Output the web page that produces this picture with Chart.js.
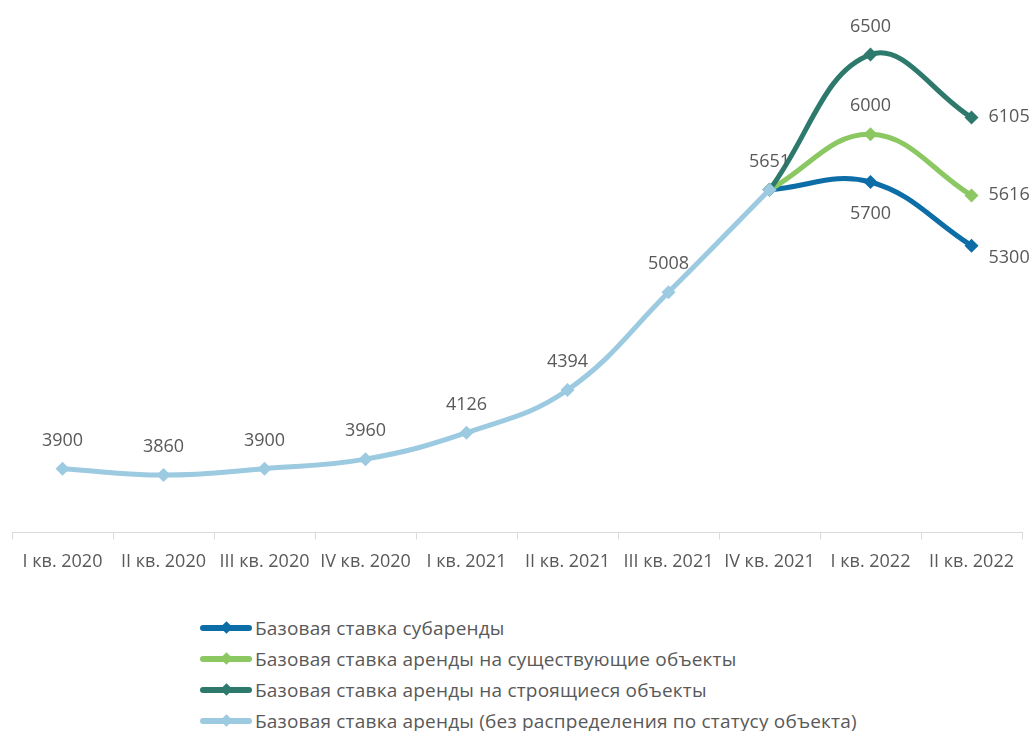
<!DOCTYPE html>
<html lang="ru">
<head>
    <meta charset="UTF-8">
    <title>Базовая ставка аренды</title>
    <script src="https://cdn.jsdelivr.net/npm/chart.js"></script>
    <style>
        body {
            margin: 0;
            background: #fff;
            font-family: 'Open Sans', sans-serif;
        }

        #chart-container {
            position: relative;
            width: 1035px;
            height: 592px;
        }

        #legend {
            margin: 20px 0 0 200px;
            padding: 0;
            list-style: none;
        }

        #legend li {
            display: flex;
            align-items: center;
            height: 31px;
            font-size: 19px;
            letter-spacing: 0.2px;
            color: #595959;
        }

        .swatch {
            position: relative;
            width: 52px;
            height: 6px;
            border-radius: 3px;
            margin-right: 3px;
        }

        .swatch i {
            position: absolute;
            left: 22px;
            top: -2px;
            width: 9px;
            height: 9px;
            transform: rotate(45deg);
            background: inherit;
        }
    </style>
</head>

<body>
    <div id="chart-container">
        <canvas id="chart"></canvas>
    </div>
    <ul id="legend"></ul>

    <script>
        // Данные
        var quarters = ['I кв. 2020', 'II кв. 2020', 'III кв. 2020', 'IV кв. 2020', 'I кв. 2021',
            'II кв. 2021', 'III кв. 2021', 'IV кв. 2021', 'I кв. 2022', 'II кв. 2022'];
        var subRent = [null, null, null, null, null, null, null, 5651, 5700, 5300];
        var existingRent = [null, null, null, null, null, null, null, 5651, 6000, 5616];
        var buildingRent = [null, null, null, null, null, null, null, 5651, 6500, 6105];
        var baseRent = [3900, 3860, 3900, 3960, 4126, 4394, 5008, 5651, null, null];

        var seriesNames = [
            'Базовая ставка субаренды',
            'Базовая ставка аренды на существующие объекты',
            'Базовая ставка аренды на строящиеся объекты',
            'Базовая ставка аренды (без распределения по статусу объекта)'
        ];

        function line(label, data, color, order) {
            return {
                label: label,
                data: data,
                borderColor: color,
                backgroundColor: color,
                borderWidth: 5,
                pointStyle: 'rectRot',
                pointRadius: 7,
                pointBorderWidth: 0,
                tension: 0.4,
                order: order
            };
        }

        var datasets = [
            line(seriesNames[0], subRent, '#0d6ea7', 3),
            line(seriesNames[1], existingRent, '#8cc862', 2),
            line(seriesNames[2], buildingRent, '#2d7a6d', 1),
            line(seriesNames[3], baseRent, '#9ccae0', 0)
        ];
        // где ставить подписи (по умолчанию сверху)
        datasets[0].labelPos = { 8: 'bottom', 9: 'right-below' };
        datasets[1].labelPos = { 9: 'right' };
        datasets[2].labelPos = { 9: 'right' };
        datasets[0].hideLabels = [7];
        datasets[1].hideLabels = [7];
        datasets[2].hideLabels = [7];

        // Подписи значений
        var valueLabels = {
            id: 'valueLabels',
            afterDatasetsDraw: function (chart) {
                var ctx = chart.ctx;
                ctx.save();
                ctx.font = '18px "Open Sans"';
                ctx.fillStyle = '#595959';
                ctx.textBaseline = 'middle';
                chart.data.datasets.forEach(function (ds, i) {
                    var meta = chart.getDatasetMeta(i);
                    meta.data.forEach(function (pt, j) {
                        var v = ds.data[j];
                        if (v == null || (ds.hideLabels || []).indexOf(j) >= 0) return;
                        var pos = (ds.labelPos || {})[j] || 'top';
                        var x = pt.x, y = pt.y;
                        ctx.textAlign = 'center';
                        if (pos === 'top') y -= 28;
                        else if (pos === 'bottom') y += 32;
                        else if (pos === 'right') { ctx.textAlign = 'left'; x += 17; y -= 1; }
                        else if (pos === 'right-below') { ctx.textAlign = 'left'; x += 17; y += 12; }
                        ctx.fillText(String(v), x, y);
                    });
                });
                ctx.restore();
            }
        };

        var ctx = document.getElementById('chart').getContext('2d');
        var chart = new Chart(ctx, {
            type: 'line',
            data: {
                labels: quarters,
                datasets: datasets
            },
            options: {
                responsive: true,
                maintainAspectRatio: false,
                animation: false,
                layout: {
                    padding: { left: 12, right: 13, top: 10, bottom: 7 }
                },
                plugins: {
                    legend: { display: false },
                    tooltip: { enabled: false }
                },
                scales: {
                    x: {
                        offset: true,
                        grid: {
                            offset: true,
                            drawOnChartArea: false,
                            tickLength: 7,
                            color: '#d9d9d9'
                        },
                        border: { color: '#d9d9d9' },
                        ticks: {
                            color: '#595959',
                            font: { family: 'Open Sans', size: 18 },
                            padding: 12,
                            maxRotation: 0,
                            autoSkip: false
                        }
                    },
                    y: {
                        display: false,
                        min: 3500,
                        max: 6780
                    }
                }
            },
            plugins: [valueLabels]
        });

        // Легенда
        var legend = document.getElementById('legend');
        datasets.forEach(function (ds) {
            var li = document.createElement('li');
            var sw = document.createElement('span');
            sw.className = 'swatch';
            sw.style.background = ds.borderColor;
            sw.appendChild(document.createElement('i'));
            li.appendChild(sw);
            li.appendChild(document.createTextNode(ds.label));
            legend.appendChild(li);
        });
    </script>
</body>

</html>
